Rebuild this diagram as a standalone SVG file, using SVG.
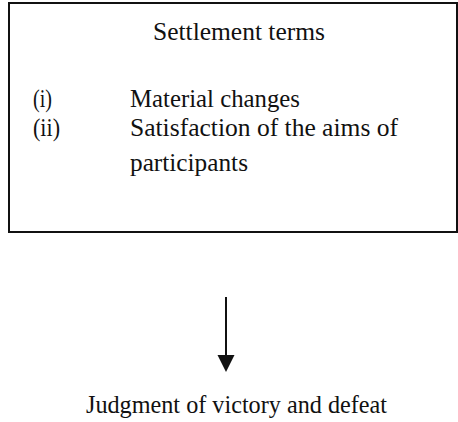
<svg xmlns="http://www.w3.org/2000/svg" width="458" height="422" viewBox="0 0 458 422">
<style>
text{font-family:"Liberation Serif","Times New Roman",serif;font-size:25px;fill:#111}
.box{fill:#fff;stroke:#111;stroke-width:2}
.conn{stroke:#111;stroke-width:2;fill:none}
.head{fill:#111}
</style>
<rect width="458" height="422" fill="#fff"/>
<g id="settlement">
<rect class="box" x="9" y="3" width="448" height="229"/>
<text x="239" y="40" text-anchor="middle" textLength="172" lengthAdjust="spacingAndGlyphs">Settlement terms</text>
<text x="33" y="106.5" textLength="19" lengthAdjust="spacingAndGlyphs">(i)</text>
<text x="130" y="106.5" textLength="170" lengthAdjust="spacingAndGlyphs">Material changes</text>
<text x="33" y="135.5" textLength="27" lengthAdjust="spacingAndGlyphs">(ii)</text>
<text x="130" y="135.5" textLength="268" lengthAdjust="spacingAndGlyphs">Satisfaction of the aims of</text>
<text x="130" y="171" textLength="118" lengthAdjust="spacingAndGlyphs">participants</text>
</g>
<g id="connectors">
<line class="conn" x1="226" y1="297" x2="226" y2="358"/>
<path class="head" d="M217.5,355 L234.5,355 L226,372 Z"/>
</g>
<g id="judgment">
<text x="236.5" y="413" text-anchor="middle" textLength="301" lengthAdjust="spacingAndGlyphs">Judgment of victory and defeat</text>
</g>
</svg>
